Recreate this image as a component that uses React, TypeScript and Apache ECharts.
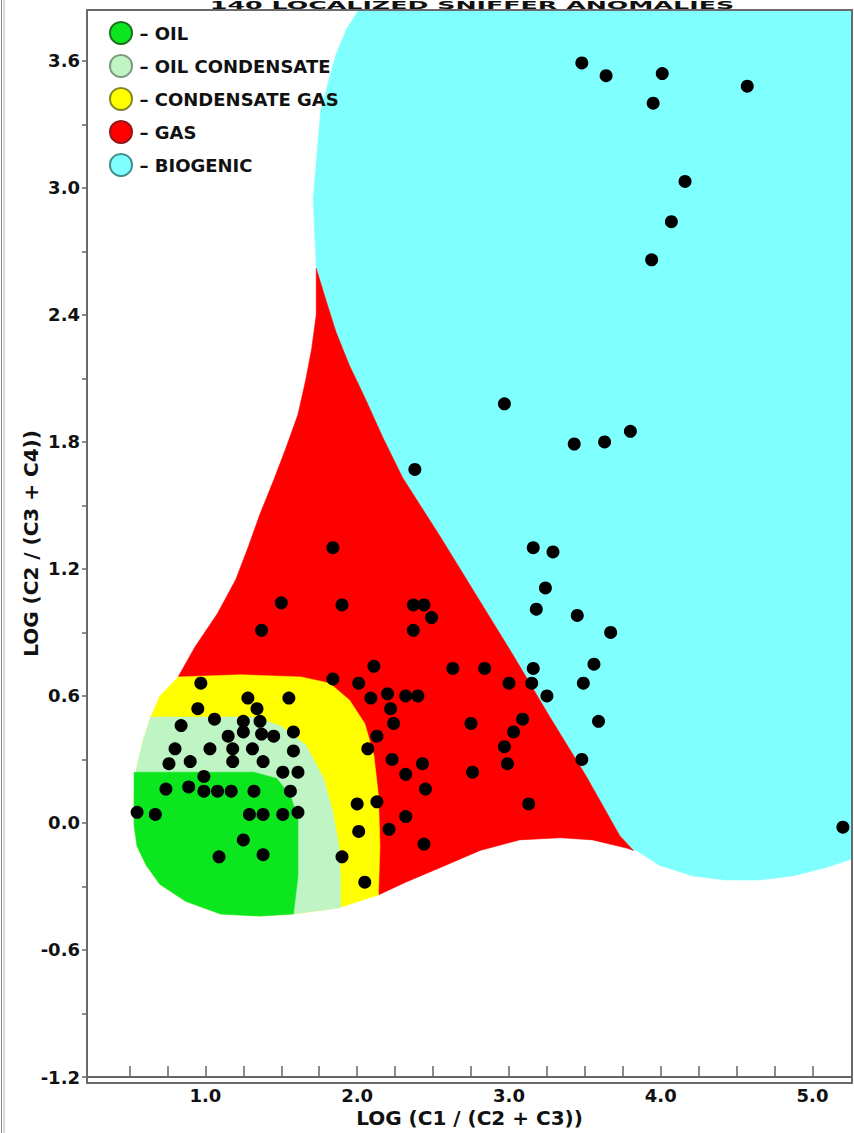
import React, { useEffect, useRef } from "react";
import * as echarts from "echarts";

const TITLE = "140 LOCALIZED SNIFFER ANOMALIES";
const X_NAME = "LOG (C1 / (C2 + C3))";
const Y_NAME = "LOG (C2 / (C3 + C4))";

const X_MIN = 0.22;
const X_MAX = 5.26;
const Y_MIN = -1.2;
const Y_MAX = 3.84;

const xTickValues = [0.5, 0.75, 1, 1.25, 1.5, 1.75, 2, 2.25, 2.5, 2.75, 3, 3.25, 3.5, 3.75, 4, 4.25, 4.5, 4.75, 5];
const xLabelValues = [1, 2, 3, 4, 5];
const yTickValues = [-1.2, -0.9, -0.6, -0.3, 0, 0.3, 0.6, 0.9, 1.2, 1.5, 1.8, 2.1, 2.4, 2.7, 3.0, 3.3, 3.6];
const yLabelValues = [-1.2, -0.6, 0, 0.6, 1.2, 1.8, 2.4, 3.0, 3.6];

// legend order
const zoneNames = ["OIL", "OIL CONDENSATE", "CONDENSATE GAS", "GAS", "BIOGENIC"];
const zoneFill = ["#0be61f", "#bff4c5", "#ffff00", "#ff0000", "#80ffff"];
const zoneBorder = ["#1d6e1d", "#7a9c7c", "#85852a", "#8c1a1a", "#3f8f8f"];

// zone outlines in data coordinates [LOG(C1/(C2+C3)), LOG(C2/(C3+C4))]
const biogenicOutline = [
  [2.02, 3.91], [5.38, 3.91], [5.38, -0.15], [5.26, -0.17], [5.09, -0.21], [4.87, -0.25], [4.65, -0.27],
  [4.43, -0.27], [4.21, -0.25], [3.99, -0.2], [3.84, -0.13], [3.82, -0.13], [3.73, -0.06], [3.51, 0.22],
  [3.27, 0.5], [3.03, 0.79], [2.79, 1.07], [2.55, 1.35], [2.3, 1.63], [2.17, 1.82], [2.05, 2.01],
  [1.95, 2.16], [1.86, 2.32], [1.79, 2.48], [1.73, 2.62], [1.71, 2.95], [1.73, 3.12], [1.76, 3.37],
  [1.86, 3.63], [1.93, 3.75], [2.01, 3.84],
];
const gasOutline = [
  [1.73, 2.62], [1.79, 2.48], [1.86, 2.32], [1.95, 2.16], [2.05, 2.01], [2.17, 1.82], [2.3, 1.63],
  [2.55, 1.35], [2.79, 1.07], [3.03, 0.79], [3.27, 0.5], [3.51, 0.22], [3.73, -0.06], [3.82, -0.13],
  [3.78, -0.12], [3.55, -0.08], [3.34, -0.07], [3.07, -0.08], [2.81, -0.13], [2.55, -0.21], [2.32, -0.28],
  [2.14, -0.34], [1.82, 0.18], [0.82, 0.69], [0.93, 0.83], [1.08, 0.99], [1.2, 1.15], [1.28, 1.3],
  [1.36, 1.46], [1.45, 1.62], [1.53, 1.77], [1.61, 1.93], [1.66, 2.09], [1.7, 2.24], [1.73, 2.4],
];
const condensateGasOutline = [
  [0.82, 0.69], [1.23, 0.7], [1.63, 0.69], [1.82, 0.66], [1.95, 0.58], [2.05, 0.47], [2.11, 0.32],
  [2.14, 0.13], [2.15, -0.11], [2.14, -0.34], [1.88, -0.4], [1.58, -0.43], [1.36, -0.44], [1.1, -0.43],
  [0.87, -0.37], [0.7, -0.29], [0.61, -0.2], [0.55, -0.11], [0.53, -0.01], [0.53, 0.13], [0.55, 0.27],
  [0.59, 0.39], [0.64, 0.5], [0.7, 0.6],
];
const oilCondensateOutline = [
  [0.64, 0.5], [0.97, 0.5], [1.32, 0.5], [1.49, 0.46], [1.66, 0.37], [1.78, 0.21], [1.84, 0.05],
  [1.88, -0.11], [1.89, -0.26], [1.89, -0.4], [1.58, -0.43], [1.36, -0.44], [1.1, -0.43], [0.87, -0.37],
  [0.7, -0.29], [0.61, -0.2], [0.55, -0.11], [0.53, -0.01], [0.53, 0.13], [0.55, 0.27], [0.59, 0.39],
];
const oilOutline = [
  [0.53, 0.24], [0.97, 0.24], [1.32, 0.24], [1.47, 0.21], [1.56, 0.13], [1.61, 0.02], [1.61, -0.25],
  [1.58, -0.43], [1.36, -0.44], [1.1, -0.43], [0.87, -0.37], [0.7, -0.29], [0.61, -0.2], [0.55, -0.11],
  [0.53, -0.01], [0.53, 0.13],
];

// localized sniffer anomalies
const anomalies = [
  [3.48, 3.59], [3.64, 3.53], [4.01, 3.54], [3.95, 3.4], [4.57, 3.48], [4.16, 3.03], [4.07, 2.84], [3.94, 2.66],
  [2.97, 1.98], [3.43, 1.79], [3.63, 1.8], [3.8, 1.85], [2.38, 1.67], [5.2, -0.02],
  [1.84, 1.3], [1.9, 1.03], [2.37, 1.03], [2.44, 1.03], [2.49, 0.97], [2.37, 0.91],
  [3.16, 1.3], [3.29, 1.28], [3.24, 1.11], [3.18, 1.01], [3.45, 0.98], [3.67, 0.9], [3.56, 0.75], [3.49, 0.66],
  [3.16, 0.73], [3.15, 0.66], [3.25, 0.6], [3.59, 0.48], [3.48, 0.3],
  [2.63, 0.73], [2.84, 0.73], [3.0, 0.66], [2.75, 0.47], [3.09, 0.49], [3.03, 0.43], [2.97, 0.36], [2.99, 0.28],
  [2.76, 0.24], [3.13, 0.09], [1.5, 1.04], [1.37, 0.91],
  [0.97, 0.66], [0.95, 0.54], [1.28, 0.59], [1.55, 0.59], [1.34, 0.54], [1.06, 0.49], [0.84, 0.46], [1.25, 0.48],
  [1.36, 0.48], [1.25, 0.43], [1.15, 0.41], [1.37, 0.42], [1.45, 0.41], [1.58, 0.43], [0.8, 0.35], [1.03, 0.35],
  [1.18, 0.35], [1.31, 0.35], [1.58, 0.34], [0.76, 0.28], [0.9, 0.29], [1.18, 0.29], [1.38, 0.29], [1.51, 0.24],
  [1.61, 0.24], [0.99, 0.22], [0.74, 0.16], [0.89, 0.17], [0.99, 0.15], [1.08, 0.15], [1.17, 0.15], [1.32, 0.15],
  [1.56, 0.15], [0.55, 0.05], [0.67, 0.04], [1.29, 0.04], [1.38, 0.04], [1.51, 0.04], [1.61, 0.05], [1.25, -0.08],
  [1.09, -0.16], [1.38, -0.15], [1.9, -0.16], [2.05, -0.28], [2.0, 0.09], [2.13, 0.1], [2.01, -0.04], [2.07, 0.35],
  [2.13, 0.41], [2.23, 0.3], [2.32, 0.23], [2.43, 0.28], [2.45, 0.16], [2.32, 0.03], [2.21, -0.03], [2.44, -0.1],
  [2.11, 0.74], [1.84, 0.68], [2.01, 0.66], [2.09, 0.59], [2.2, 0.61], [2.32, 0.6], [2.4, 0.6], [2.22, 0.54],
  [2.24, 0.47],
];

const FONT = "'DejaVu Sans', 'Liberation Sans', Arial, sans-serif";
const W = 854;
const H = 1133;
const GRID = { left: 87, top: 10, right: 2, bottom: 50 };

function zoneSeries(name: string, outline: number[][]) {
  const i = zoneNames.indexOf(name);
  return {
    type: "custom",
    name,
    coordinateSystem: "cartesian2d",
    clip: true,
    silent: true,
    data: outline,
    encode: { x: 0, y: 1 },
    itemStyle: { color: zoneFill[i] },
    renderItem: (params: any, api: any) => {
      if (params.dataIndex !== 0) return null;
      const pts = outline.map((p) => api.coord(p));
      return {
        type: "polygon",
        shape: { points: pts },
        style: { fill: zoneFill[i], stroke: zoneFill[i], lineWidth: 0.5 },
      };
    },
  };
}

export default function App() {
  const ref = useRef<HTMLDivElement>(null);

  useEffect(() => {
    if (!ref.current) return;
    const chart = echarts.init(ref.current, undefined, { renderer: "svg", width: W, height: H });
    const gw = W - GRID.left - GRID.right;
    const gh = H - GRID.top - GRID.bottom;

    chart.setOption({
      animation: false,
      backgroundColor: "#ffffff",
      textStyle: { fontFamily: FONT },
      grid: { ...GRID, containLabel: false },
      legend: {
        orient: "vertical",
        left: 104,
        top: 16,
        icon: "circle",
        itemWidth: 23,
        itemHeight: 22,
        itemGap: 9,
        selectedMode: false,
        formatter: (n: string) => "\u2013 " + n,
        textStyle: {
          fontFamily: FONT,
          fontWeight: "bold",
          fontSize: 18,
          lineHeight: 22,
          color: "#111",
          padding: [0, 0, 0, 2],
        },
        data: zoneNames.map((n, i) => ({
          name: n,
          itemStyle: { color: zoneFill[i], borderColor: zoneBorder[i], borderWidth: 2 },
        })),
      },
      xAxis: {
        type: "value",
        min: X_MIN,
        max: X_MAX,
        name: X_NAME,
        nameLocation: "middle",
        nameGap: 31,
        nameMoveOverlap: false,
        nameTextStyle: { fontFamily: FONT, fontWeight: "bold", fontSize: 20, color: "#111" },
        axisLine: { show: true, onZero: false, lineStyle: { color: "#666", width: 2 } },
        axisTick: {
          show: true,
          inside: true,
          length: 11,
          customValues: xTickValues,
          lineStyle: { color: "#666", width: 1.5 },
        },
        axisLabel: {
          customValues: xLabelValues,
          margin: 9,
          formatter: (v: number) => v.toFixed(1),
          fontFamily: FONT,
          fontWeight: "bold",
          fontSize: 18,
          color: "#111",
        },
        splitLine: { show: false },
      },
      yAxis: {
        type: "value",
        min: Y_MIN,
        max: Y_MAX,
        name: Y_NAME,
        nameLocation: "middle",
        nameRotate: 90,
        nameGap: 46,
        nameMoveOverlap: false,
        nameTextStyle: { fontFamily: FONT, fontWeight: "bold", fontSize: 20, color: "#111" },
        axisLine: { show: true, onZero: false, lineStyle: { color: "#666", width: 2 } },
        axisTick: {
          show: true,
          inside: false,
          length: 5,
          customValues: yTickValues,
          lineStyle: { color: "#666", width: 1.5 },
        },
        axisLabel: {
          customValues: yLabelValues,
          margin: 7,
          formatter: (v: number) => v.toFixed(1),
          fontFamily: FONT,
          fontWeight: "bold",
          fontSize: 18,
          color: "#111",
        },
        splitLine: { show: false },
      },
      graphic: [
        {
          type: "rect",
          z: 100,
          silent: true,
          shape: { x: GRID.left, y: GRID.top, width: gw, height: gh },
          style: { fill: "none", stroke: "#6a6a6a", lineWidth: 2 },
        },
        {
          type: "line",
          z: 100,
          silent: true,
          shape: { x1: 1.5, y1: 0, x2: 1.5, y2: H },
          style: { stroke: "#8a8a8a", lineWidth: 1 },
        },
        {
          type: "line",
          z: 100,
          silent: true,
          shape: { x1: 4, y1: 0, x2: 4, y2: H },
          style: { stroke: "#b0b0b0", lineWidth: 1 },
        },
        {
          type: "text",
          z: 100,
          silent: true,
          x: 472,
          y: 5,
          scaleX: 2.3,
          style: {
            text: TITLE,
            fontFamily: FONT,
            fontWeight: "bold",
            fontSize: 11,
            fill: "#111",
            align: "center",
            verticalAlign: "middle",
          },
        },
      ],
      series: [
        zoneSeries("BIOGENIC", biogenicOutline),
        zoneSeries("GAS", gasOutline),
        zoneSeries("CONDENSATE GAS", condensateGasOutline),
        zoneSeries("OIL CONDENSATE", oilCondensateOutline),
        zoneSeries("OIL", oilOutline),
        {
          type: "scatter",
          name: "ANOMALIES",
          data: anomalies,
          symbol: "circle",
          symbolSize: 13,
          z: 10,
          silent: true,
          itemStyle: { color: "#000000", opacity: 1 },
        },
      ],
    });

    return () => chart.dispose();
  }, []);

  return (
    <div
      ref={ref}
      style={{ position: "absolute", left: 0, top: 0, width: W, height: H, background: "#fff" }}
    />
  );
}
